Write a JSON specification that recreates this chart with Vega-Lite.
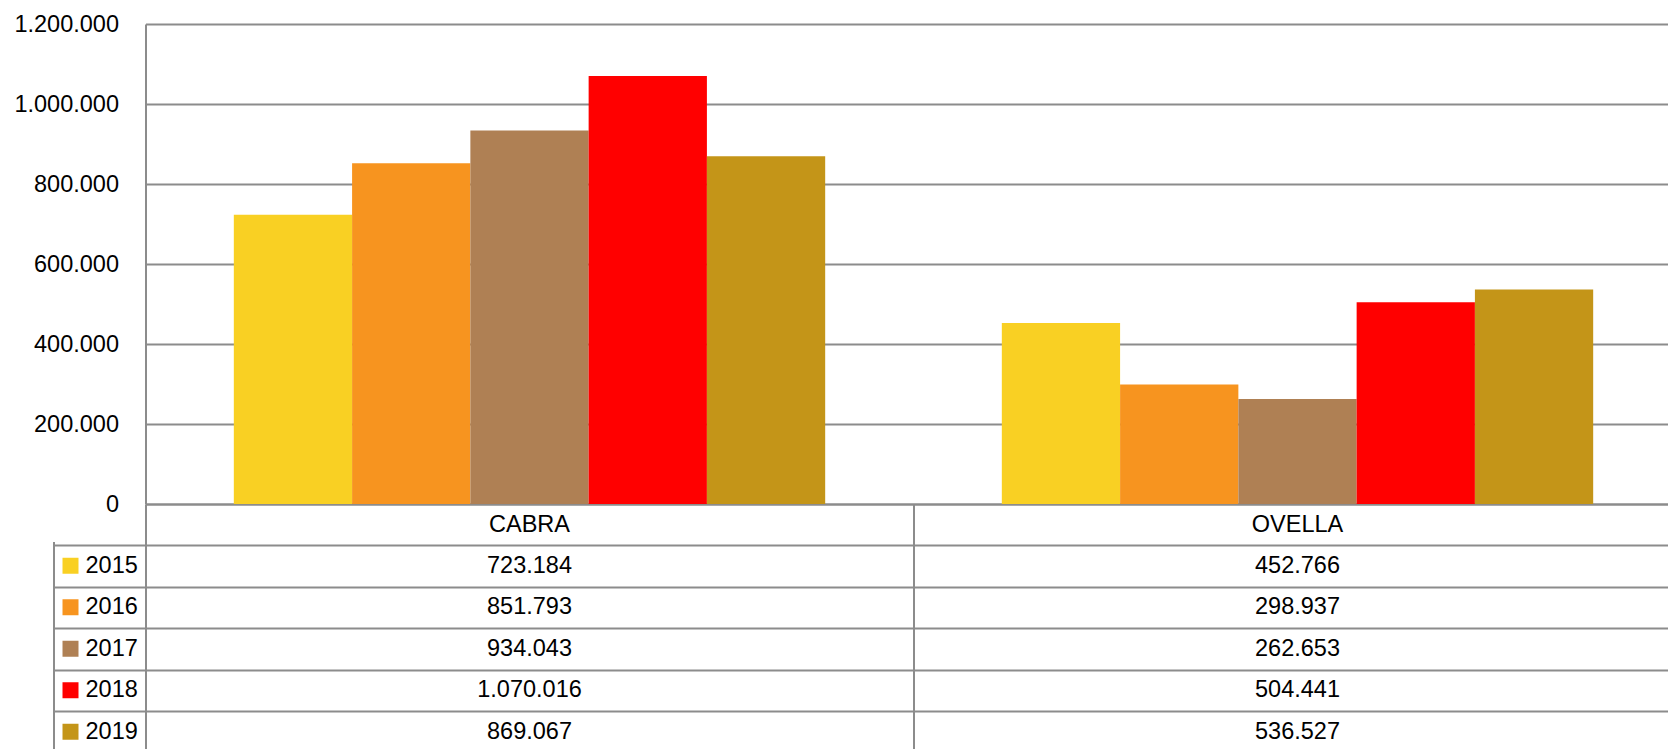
{
  "$schema": "https://vega.github.io/schema/vega-lite/v6.json",
  "padding": {"left": 13.5, "top": 12, "right": 0, "bottom": 0},
  "bounds": "flush",
  "align": "each",
  "spacing": 0,
  "columns": 2,
  "background": "white",
  "datasets": {
    "d": [
      {"cat": "CABRA", "year": "2015", "value": 723184},
      {"cat": "CABRA", "year": "2016", "value": 851793},
      {"cat": "CABRA", "year": "2017", "value": 934043},
      {"cat": "CABRA", "year": "2018", "value": 1070016},
      {"cat": "CABRA", "year": "2019", "value": 869067},
      {"cat": "OVELLA", "year": "2015", "value": 452766},
      {"cat": "OVELLA", "year": "2016", "value": 298937},
      {"cat": "OVELLA", "year": "2017", "value": 262653},
      {"cat": "OVELLA", "year": "2018", "value": 504441},
      {"cat": "OVELLA", "year": "2019", "value": 536527}
    ]
  },
  "data": {"name": "d"},
  "config": {
    "font": "Liberation Sans",
    "view": {"stroke": null},
    "locale": {"number": {"decimal": ",", "thousands": ".", "grouping": [3], "currency": ["", " €"]}},
    "axis": {
      "gridColor": "#8c8c8c",
      "gridWidth": 2,
      "gridOpacity": 1,
      "domainColor": "#8c8c8c",
      "domainWidth": 2,
      "labelColor": "#000000",
      "labelFontSize": 23.5,
      "ticks": false,
      "tickSize": 0,
      "title": null
    },
    "text": {"fontSize": 23.5, "color": "#000000"}
  },
  "concat": [
    {
      "width": 92,
      "height": 480,
      "transform": [{"aggregate": [], "groupby": ["cat"]}],
      "mark": {"type": "text"},
      "encoding": {"text": {"value": ""}}
    },
    {
      "width": 1523,
      "height": 480,
      "mark": {"type": "bar"},
      "encoding": {
        "x": {
          "field": "cat", "type": "nominal", "sort": ["CABRA", "OVELLA"],
          "scale": {"range": [0, 1536], "paddingInner": 0.23, "paddingOuter": 0.115},
          "axis": {"labels": false, "domain": true, "grid": false}
        },
        "xOffset": {"field": "year", "type": "ordinal", "scale": {"paddingInner": 0, "paddingOuter": 0}},
        "y": {
          "field": "value", "type": "quantitative",
          "scale": {"domain": [0, 1200000], "nice": false},
          "axis": {"values": [0, 200000, 400000, 600000, 800000, 1000000, 1200000], "format": ",d", "labelPadding": 27, "domain": true, "grid": true}
        },
        "color": {
          "field": "year", "type": "ordinal",
          "scale": {"domain": ["2015", "2016", "2017", "2018", "2019"], "range": ["#F9D023", "#F7941F", "#AF8054", "#FF0000", "#C49518"]},
          "legend": null
        }
      }
    },
    {
      "width": 92,
      "height": 41,
      "transform": [{"aggregate": [], "groupby": ["cat"]}],
      "mark": {"type": "text"},
      "encoding": {"text": {"value": ""}}
    },
    {
      "width": 1523,
      "height": 41,
      "transform": [{"aggregate": [], "groupby": ["cat"]}],
      "mark": {"type": "text"},
      "encoding": {
        "x": {
          "field": "cat", "type": "nominal", "sort": ["CABRA", "OVELLA"],
          "scale": {"range": [0, 1536], "paddingInner": 0, "paddingOuter": 0},
          "axis": {"labels": false, "domain": false, "grid": true, "tickBand": "extent", "values": ["CABRA"]}
        },
        "text": {"field": "cat"}
      }
    },
    {
      "width": 92,
      "height": 204,
      "transform": [{"aggregate": [], "groupby": ["year"]}],
      "encoding": {
        "x": {
          "datum": "leg", "type": "nominal",
          "scale": {"paddingInner": 0, "paddingOuter": 0},
          "axis": {"labels": false, "domain": false, "grid": true, "tickBand": "extent"}
        },
        "y": {
          "field": "year", "type": "ordinal",
          "scale": {"range": [0, 207.5], "paddingInner": 0, "paddingOuter": 0},
          "axis": {"labels": false, "domain": false, "grid": true, "tickBand": "extent", "values": ["2015", "2016", "2017", "2018"]}
        }
      },
      "layer": [
        {
          "mark": {"type": "square", "size": 256, "filled": true, "opacity": 1, "xOffset": -29},
          "encoding": {
            "color": {
              "field": "year", "type": "ordinal",
              "scale": {"domain": ["2015", "2016", "2017", "2018", "2019"], "range": ["#F9D023", "#F7941F", "#AF8054", "#FF0000", "#C49518"]},
              "legend": null
            }
          }
        },
        {
          "mark": {"type": "text", "align": "left", "dx": -14},
          "encoding": {"text": {"field": "year"}}
        }
      ]
    },
    {
      "width": 1523,
      "height": 204,
      "mark": {"type": "text"},
      "encoding": {
        "x": {
          "field": "cat", "type": "nominal", "sort": ["CABRA", "OVELLA"],
          "scale": {"range": [0, 1536], "paddingInner": 0, "paddingOuter": 0},
          "axis": {"labels": false, "domain": false, "grid": true, "tickBand": "extent", "values": ["CABRA"]}
        },
        "y": {
          "field": "year", "type": "ordinal",
          "scale": {"range": [0, 207.5], "paddingInner": 0, "paddingOuter": 0},
          "axis": {"labels": false, "domain": false, "grid": true, "tickBand": "extent", "values": ["2015", "2016", "2017", "2018"]}
        },
        "text": {"field": "value", "format": ",d"}
      }
    }
  ]
}
